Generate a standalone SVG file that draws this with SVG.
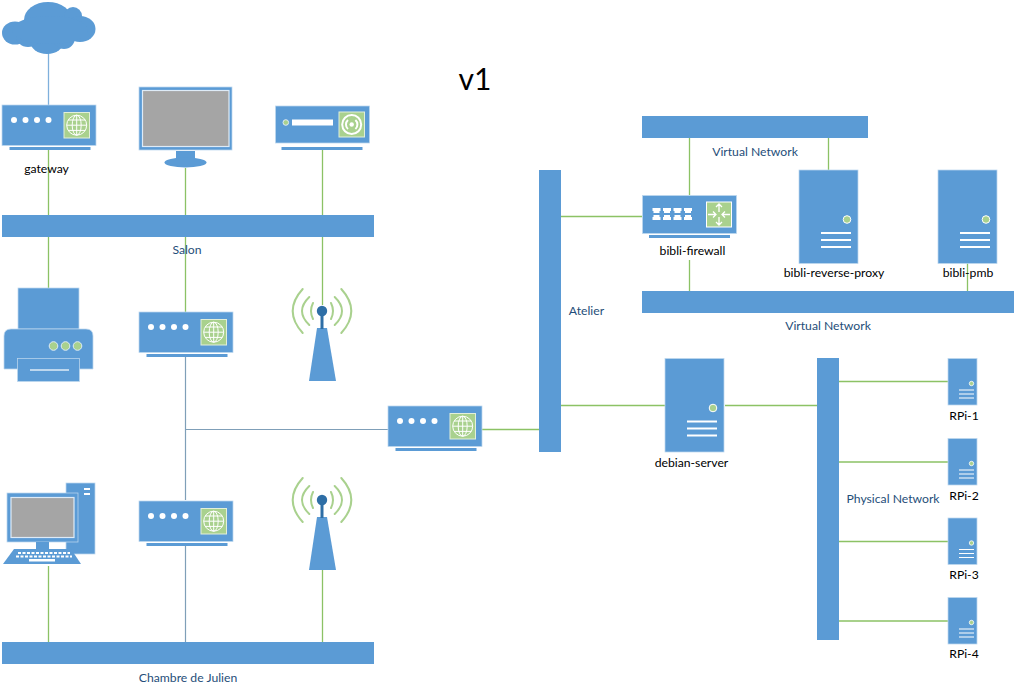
<svg xmlns="http://www.w3.org/2000/svg" width="1016" height="693" viewBox="0 0 1016 693">
<style>
.b{fill:#5b9bd5}
.bs{fill:#5b9bd5;stroke:#bdd7ee;stroke-width:.75}
.g{fill:#a9d18e}
.w{fill:#fff}
.gl{stroke:#fff;stroke-width:1;fill:none}
.scr{fill:#a5a5a5;stroke:#deebf7;stroke-width:1.2}
.wave{fill:none;stroke:#a9d18e;stroke-width:2;stroke-linecap:round}
.c{stroke:#8cc265;stroke-width:1.3;fill:none}
.cb{stroke:#7fb0dc;stroke-width:1.3;fill:none}
.cg{stroke:#7f9fb8;stroke-width:1.2;fill:none}
.t{font-family:Lato,"Liberation Sans",sans-serif;font-size:12.2px;fill:#000;text-anchor:middle}
.tb{font-family:Lato,"Liberation Sans",sans-serif;font-size:12.2px;fill:#1f4e79;text-anchor:middle}
</style>
<defs>
<g id="globe">
<rect x="62" y="7.500" width="25.500" height="25.500" class="g" stroke="#e2efda"/>
<circle cx="74.700" cy="20.200" r="10" class="gl"/>
<ellipse cx="74.700" cy="20.200" rx="4.500" ry="10" class="gl"/>
<path d="M64.700 20.200h20M66 15h17.400M66 25.400h17.400M74.700 10.200v20" class="gl"/>
</g>
<g id="router">
<rect x="0" y="0" width="94" height="40.500" class="bs"/>
<rect x="7.500" y="42" width="81" height="3" class="b"/>
<circle cx="12" cy="15" r="3" class="w"/><circle cx="23.500" cy="15" r="3" class="w"/><circle cx="35" cy="15" r="3" class="w"/><circle cx="46.500" cy="15" r="3" class="w"/>
<use href="#globe"/>
</g>
<g id="server">
<rect x="0" y="0" width="59" height="93.500" class="bs"/>
<circle cx="48" cy="49.500" r="3.800" class="g" stroke="#fff" stroke-width="1"/>
<path d="M22 63h30M22 70h30M22 77h30" stroke="#fff" stroke-width="2" fill="none"/>
</g>
<g id="rpi">
<rect x="0" y="0" width="29" height="46.500" class="bs"/>
<circle cx="23.500" cy="25" r="2.200" class="g" stroke="#fff" stroke-width=".8"/>
<path d="M11 31.500h15M11 35.500h15M11 39.500h15" stroke="#fff" stroke-width="1.200" fill="none"/>
</g>
<g id="antenna">
<path d="M3 77 L11 24 L21 24 L30 77Z" class="b"/>
<path d="M16 7v18" stroke="#2e6ea6" stroke-width="3" fill="none"/>
<circle cx="16" cy="7" r="5.200" fill="#2e6ea6"/>
<path class="wave" d="M7 -1Q3 7 7 15M25 -1Q29 7 25 15M3.300 -7Q-11.300 7 3.300 21M28.700 -7Q43.300 7 28.700 21M-3.300 -15Q-23.300 7 -3.300 29M35.300 -15Q55.300 7 35.300 29"/>
</g>
</defs>

<g id="connectors">
<path class="cb" d="M48.500 52V105"/>
<path class="c" d="M48.500 148V215M185.500 168V215M322.500 150V215M48.500 237V288M185.500 237V312M322.500 237V305"/>
<path class="cg" d="M185.500 356V500M185.500 429.500H388M185.500 543V642"/>
<path class="c" d="M48.500 566V642M322.500 570V642M482 429.500H539M561 216.500H642M561 405.500H665M725 405.500H817M689.500 138V195M828.500 138V170M689.500 260V291M967.500 263V291M839 381.500H948M839 462H948M839 541.500H948M839 621H948"/>
</g>

<g id="cloud" class="b">
<ellipse cx="15" cy="33" rx="13" ry="11.500"/>
<ellipse cx="48" cy="20" rx="24" ry="18"/>
<ellipse cx="73" cy="16" rx="9" ry="9"/>
<ellipse cx="80" cy="29" rx="15.500" ry="13"/>
<ellipse cx="47" cy="41" rx="17" ry="13"/>
<ellipse cx="64" cy="38" rx="11" ry="11"/>
<ellipse cx="28" cy="36" rx="12" ry="11"/>
<ellipse cx="50" cy="30" rx="38" ry="14"/>
</g>
<g id="gateway"><use href="#router" x="2" y="105"/><text class="t" x="46.500" y="173">gateway</text></g>
<g id="monitor">
<rect x="139" y="87" width="93" height="63" class="bs"/>
<rect x="142.500" y="90.500" width="86.500" height="56" class="scr"/>
<rect x="176" y="151" width="19" height="8" class="b"/>
<ellipse cx="185.500" cy="162.500" rx="21" ry="5" class="b"/>
</g>
<g id="media">
<rect x="275.500" y="106" width="94" height="37" class="bs"/>
<rect x="281.500" y="147" width="81" height="3" class="b"/>
<circle cx="285.800" cy="122.500" r="2.800" class="g" stroke="#deebf7"/>
<rect x="292" y="119.500" width="41" height="6" class="w"/>
<rect x="339" y="112" width="25.500" height="25" class="g" stroke="#e2efda"/>
<circle cx="351.700" cy="124.500" r="9.500" fill="none" stroke="#fff" stroke-width="2"/>
<circle cx="351.700" cy="124.500" r="2.200" class="w"/>
<path d="M346 124.500a5.700 5.700 0 0 1 2-4.500M357.400 124.500a5.700 5.700 0 0 0 -2-4.500M346 124.500a5.700 5.700 0 0 0 2 4.500M357.400 124.500a5.700 5.700 0 0 1 -2 4.500" stroke="#fff" stroke-width="2" fill="none"/>
</g>
<g id="salon"><rect x="2" y="215" width="372" height="22" class="b"/><text class="tb" x="187" y="254">Salon</text></g>
<g id="printer">
<rect x="18" y="288" width="61" height="41" class="bs"/>
<path class="bs" d="M4 369V336Q4 329 11 329H86Q93 329 93 336V369Z"/>
<rect x="17.500" y="358.500" width="62" height="23" class="bs"/>
<path d="M30 370H69" stroke="#bdd7ee" stroke-width="2"/>
<circle cx="53.500" cy="346" r="4.300" class="g" stroke="#deebf7"/><circle cx="65.500" cy="346" r="4.300" class="g" stroke="#deebf7"/><circle cx="77.500" cy="346" r="4.300" class="g" stroke="#deebf7"/>
</g>
<g id="router-salon"><use href="#router" x="139" y="312"/></g>
<g id="antenna-salon"><use href="#antenna" x="306" y="304"/></g>
<g id="router-main"><use href="#router" x="388" y="406"/></g>
<g id="router-chambre"><use href="#router" x="139" y="501"/></g>
<g id="antenna-chambre"><use href="#antenna" x="306" y="493"/></g>
<g id="pc">
<rect x="66" y="483" width="29" height="71" class="bs"/>
<path d="M84 489h6M84 494h6" stroke="#fff" stroke-width="2"/>
<rect x="7" y="493" width="71" height="49" class="bs" stroke="#fff"/>
<rect x="11" y="497.500" width="63" height="40" class="scr"/>
<rect x="36" y="542" width="13" height="7" class="b"/>
<path d="M14 549H71L81 564H3Z" class="b"/>
<path d="M18 553H70M16 556.500H72" stroke="#fff" stroke-width="2" stroke-dasharray="3 1.500"/>
<rect x="29" y="559" width="26" height="2.500" class="w"/>
</g>
<g id="chambre"><rect x="2" y="642" width="372" height="22" class="b"/><text class="tb" x="188" y="682">Chambre de Julien</text></g>
<g id="title"><text x="475" y="90" font-family="Lato,'Liberation Sans',sans-serif" font-size="30" text-anchor="middle" fill="#000">v1</text></g>
<g id="atelier"><rect x="539" y="170" width="22" height="282" class="b"/><text class="tb" x="586.500" y="315">Atelier</text></g>
<g id="vnet-top"><rect x="642" y="116" width="226" height="22" class="b"/><text class="tb" x="755" y="156">Virtual Network</text></g>
<g id="bibli-firewall">
<rect x="642.500" y="195.500" width="94" height="38" class="bs"/>
<rect x="649" y="235" width="81" height="3" class="b"/>
<path d="M652.500 208h8v3h-1v2h-6v-2h-1zM663 208h8v3h-1v2h-6v-2h-1zM673.500 208h8v3h-1v2h-6v-2h-1zM684 208h8v3h-1v2h-6v-2h-1z" class="w"/>
<path d="M652.500 220h8v-3h-1v-2h-6v2h-1zM663 220h8v-3h-1v-2h-6v2h-1zM673.500 220h8v-3h-1v-2h-6v2h-1zM684 220h8v-3h-1v-2h-6v2h-1z" class="w"/>
<rect x="706.500" y="202" width="25" height="25" class="g" stroke="#fff"/>
<path d="M719 204v8M716 207l3-3 3 3M719 225v-8M716 222l3 3 3-3M708 214.500h8M713 211.500l3 3-3 3M730 214.500h-8M725 211.500l-3 3 3 3" stroke="#fff" stroke-width="1.300" fill="none"/>
<text class="t" x="692.500" y="255">bibli-firewall</text>
</g>
<g id="bibli-reverse-proxy"><use href="#server" x="799" y="170"/><text class="t" x="834" y="277">bibli-reverse-proxy</text></g>
<g id="bibli-pmb"><use href="#server" x="938" y="170"/><text class="t" x="968" y="277">bibli-pmb</text></g>
<g id="vnet-bottom"><rect x="642" y="291" width="372" height="22" class="b"/><text class="tb" x="828" y="330">Virtual Network</text></g>
<g id="debian-server"><use href="#server" x="665" y="358.500"/><text class="t" x="691.500" y="467">debian-server</text></g>
<g id="physical"><rect x="817" y="358" width="22" height="282" class="b"/><text class="tb" x="893" y="503">Physical Network</text></g>
<g id="rpi-1"><use href="#rpi" x="948" y="358.500"/><text class="t" x="964" y="420">RPi-1</text></g>
<g id="rpi-2"><use href="#rpi" x="948" y="438.500"/><text class="t" x="964" y="500">RPi-2</text></g>
<g id="rpi-3"><use href="#rpi" x="948" y="518"/><text class="t" x="964" y="579">RPi-3</text></g>
<g id="rpi-4"><use href="#rpi" x="948" y="597.500"/><text class="t" x="964" y="658">RPi-4</text></g>
</svg>
